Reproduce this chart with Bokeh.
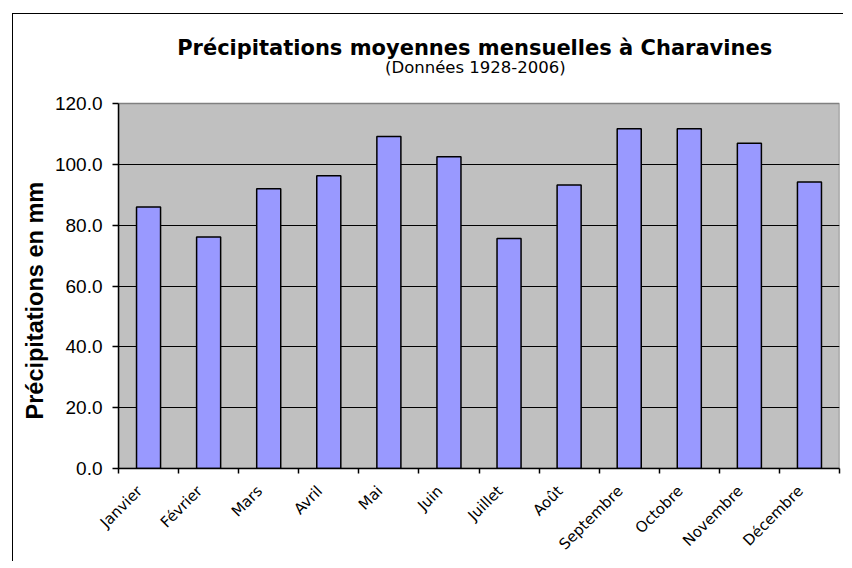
import numpy as np
from bokeh.plotting import figure
from bokeh.models import (FixedTicker, NumeralTickFormatter, Range1d, LinearAxis, Title)
from bokeh.core.properties import value
from bokeh.embed import file_html
from bokeh.resources import INLINE

months = ["Janvier", "Février", "Mars", "Avril", "Mai", "Juin", "Juillet",
          "Août", "Septembre", "Octobre", "Novembre", "Décembre"]
precip = [86.0, 76.1, 92.0, 96.3, 109.2, 102.5, 75.6, 93.2, 111.7, 111.7, 107.0, 94.2]
y_ticks = [0, 20, 40, 60, 80, 100, 120]
y_max = 120

title_text = "Précipitations moyennes mensuelles à Charavines"
subtitle_text = "(Données 1928-2006)"
y_label = "Précipitations en mm"

n = len(months)
xpos = [i + 0.5 for i in range(n)]
label_pos = [x - 0.15 for x in xpos]

# frame extends above the plot area to hold the titles
y_top = 149.3
p = figure(width=831, height=548, output_backend="svg", toolbar_location=None,
           x_range=Range1d(0, n), y_range=Range1d(0, y_top),
           min_border_left=105, min_border_right=5, min_border_top=0, min_border_bottom=94,
           background_fill_color="white", border_fill_color="white",
           outline_line_color=None, x_axis_type=None)
p.title.visible = False
p.styles = {"margin-left": "12px", "margin-top": "13px",
            "border-left": "1px solid black", "border-top": "1px solid black"}

# grey plot area
area = p.quad(left=[0], right=[n], bottom=[0], top=[y_max], fill_color="#C0C0C0",
              line_color="#808080", line_width=1.5)
area.level = "image"

p.vbar(x=xpos, top=precip, width=0.4, bottom=0, fill_color="#9999FF",
       line_color="black", line_width=1.5)

# x axis: labels near centers, ticks at category boundaries
xaxis = LinearAxis(ticker=FixedTicker(ticks=label_pos, minor_ticks=list(range(n + 1))),
                   major_label_overrides={x: m for x, m in zip(label_pos, months)})
xaxis.major_tick_line_color = None
xaxis.minor_tick_line_color = "black"
xaxis.minor_tick_line_width = 1.5
xaxis.minor_tick_out = 5
xaxis.minor_tick_in = 0
xaxis.axis_line_color = "black"
xaxis.axis_line_width = 1.5
xaxis.major_label_orientation = np.pi / 4
xaxis.major_label_text_font = "DejaVu Sans"
xaxis.major_label_text_font_size = "15px"
xaxis.major_label_text_color = "black"
xaxis.major_label_standoff = 14
p.add_layout(xaxis, "below")

p.yaxis.bounds = (0, y_max)
p.yaxis.ticker = FixedTicker(ticks=y_ticks)
p.yaxis.formatter = NumeralTickFormatter(format="0.0")
p.yaxis.minor_tick_line_color = None
p.yaxis.major_tick_out = 6
p.yaxis.major_tick_in = 0
p.yaxis.axis_line_color = "black"
p.yaxis.axis_line_width = 1.5
p.yaxis.major_tick_line_width = 1.5
p.yaxis.major_label_text_font = "Liberation Sans"
p.yaxis.major_label_text_font_size = "19px"
p.yaxis.major_label_text_color = "black"
p.yaxis.major_label_standoff = 10

# y axis title, positioned along the plot area (not the whole frame)
p.add_layout(Title(text=y_label, align="left", offset=49, standoff=8,
                   text_font="Liberation Sans", text_font_style="bold",
                   text_font_size="23.5px", text_color="black"), "left")

p.xgrid.visible = False
p.ygrid.ticker = FixedTicker(ticks=y_ticks[1:-1])
p.ygrid.grid_line_color = "black"
p.ygrid.grid_line_width = 1.2

# titles inside the (extended) frame
p.text(x=[n * 0.494], y=[138.4], text=[title_text], text_align="center",
       text_baseline="middle", text_font=value("DejaVu Sans"), text_font_size="21px",
       text_font_style="bold", text_color="black")
p.text(x=[n * 0.495], y=[131.8], text=[subtitle_text], text_align="center",
       text_baseline="middle", text_font=value("DejaVu Sans"), text_font_size="16.5px",
       text_color="black")

open("out.html", "w").write(file_html(p, INLINE))
